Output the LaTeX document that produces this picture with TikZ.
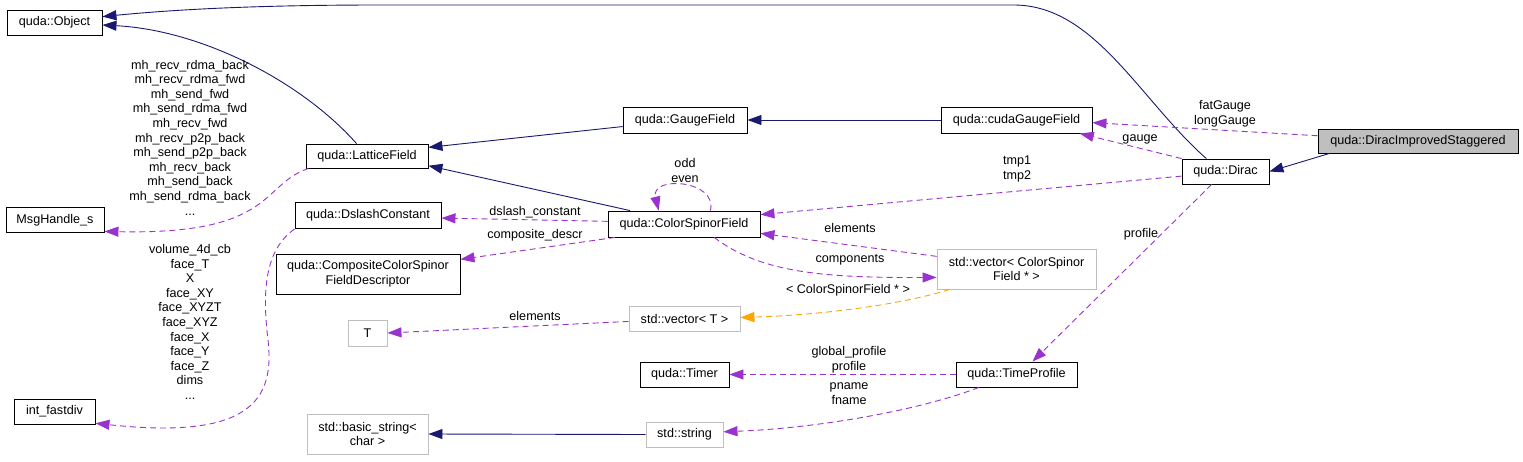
\documentclass[tikz,border=0pt]{standalone}
\usepackage{fontspec}
\setmainfont{Liberation Sans}
\usepackage{tikz}
\usetikzlibrary{arrows.meta}
\definecolor{navy}{HTML}{191970}
\definecolor{orchid}{HTML}{9A32CD}
\definecolor{amber}{HTML}{FFA500}
\definecolor{lgray}{HTML}{BFBFBF}
\begin{document}
\begin{tikzpicture}[x=1pt, y=-1pt,
  every node/.style={font=\fontsize{12.6}{14.6}\selectfont, inner sep=0pt, align=center},
  cls/.style={draw=black, fill=white, line width=0.9pt},
  undoc/.style={draw=lgray, fill=white, line width=0.9pt},
  inh/.style={draw=navy, line width=0.9pt, -{Triangle[length=14pt, width=10pt]}},
  uses/.style={draw=orchid, line width=0.9pt, dash pattern=on 6pt off 4pt, -{Triangle[length=14pt, width=10pt]}},
  tmpl/.style={uses, draw=amber}]
\useasboundingbox (0,0) rectangle (1523,461);
\node[cls, minimum width=95, minimum height=25] (obj) at (54.5,22.5) {quda::Object};
\node[cls, minimum width=122, minimum height=24] (lattice) at (367,156) {quda::LatticeField};
\node[cls, minimum width=98, minimum height=25] (msg) at (55,220) {MsgHandle\_s};
\node[cls, minimum width=146, minimum height=26] (dslash) at (368,215.5) {quda::DslashConstant};
\node[cls, minimum width=184, minimum height=40] (comp) at (368,274) {quda::CompositeColorSpinor\\FieldDescriptor};
\node[undoc, minimum width=39, minimum height=26] (T) at (367.5,333) {T};
\node[undoc, minimum width=121, minimum height=40] (bstr) at (367.5,434) {std::basic\_string<\\char >};
\node[cls, minimum width=81, minimum height=25] (fastdiv) at (54.5,411.5) {int\_fastdiv};
\node[cls, minimum width=124, minimum height=26] (gauge) at (685,120) {quda::GaugeField};
\node[cls, minimum width=152, minimum height=26] (csf) at (684,224) {quda::ColorSpinorField};
\node[undoc, minimum width=111, minimum height=25] (vecT) at (684.5,318.5) {std::vector< T >};
\node[cls, minimum width=151, minimum height=26] (cuda) at (1016.5,120) {quda::cudaGaugeField};
\node[cls, minimum width=87, minimum height=25] (dirac) at (1225.5,171.5) {quda::Dirac};
\node[cls, fill=lgray, minimum width=200, minimum height=24] (dis) at (1418,141) {quda::DiracImprovedStaggered};
\node[undoc, minimum width=159, minimum height=40] (vecC) at (1016.5,269) {std::vector< ColorSpinor\\Field * >};
\node[cls, minimum width=121, minimum height=25] (tprof) at (1016.5,374.5) {quda::TimeProfile};
\node[cls, minimum width=89, minimum height=25] (timer) at (684.5,374.5) {quda::Timer};
\node[undoc, minimum width=77, minimum height=25] (str) at (684.5,434.5) {std::string};

\draw[inh] (dirac.146) .. controls (1140,100) and (1095,6) .. (1015,5) -- (380,5) .. controls (250,5) and (170,10) .. (obj.7);
\draw[inh] (lattice.130) .. controls (300,80) and (200,30) .. (obj.-3);
\draw[inh] (gauge.186) -- (lattice.8);
\draw[inh] (csf.166) -- (lattice.-9);
\draw[inh] (cuda.west) -- (gauge.east);
\draw[inh] (dis.188.5) -- (dirac.east);
\draw[inh] (str.west) -- (bstr.east);

\draw[uses] (lattice.192) .. controls (260,185) and (275,235) .. (msg.-13);
\draw[uses] (dslash.south west) .. controls (265,250) and (262,290) .. (268,340) .. controls (275,400) and (250,440) .. (fastdiv.-16);
\draw[uses] (csf.178) -- (dslash.-2);
\draw[uses] (csf.191) -- (comp.9);
\draw[uses] (csf.27) .. controls (718,180) and (650,175) .. (csf.152);
\draw[uses] (dirac.186) -- (csf.7);
\draw[uses] (vecC.171) -- (csf.-7);
\draw[uses] (csf.-24) .. controls (760,272) and (820,278) .. (vecC.186);
\draw[uses] (vecT.183) -- (T.east);
\draw[tmpl] (vecC.197) .. controls (900,305) and (820,315) .. (vecT.1);
\draw[uses] (dis.177) -- (cuda.-2);
\draw[uses] (dirac.north west) -- (cuda.-12);
\draw[uses] (dirac.223) -- (tprof.39);
\draw[uses] (tprof.west) -- (timer.east);
\draw[uses] (tprof.199) .. controls (920,410) and (820,428) .. (str.4);

\node (lbmsg) at (190,137.5) {mh\_recv\_rdma\_back\\mh\_recv\_rdma\_fwd\\mh\_send\_fwd\\mh\_send\_rdma\_fwd\\mh\_recv\_fwd\\mh\_recv\_p2p\_back\\mh\_send\_p2p\_back\\mh\_recv\_back\\mh\_send\_back\\mh\_send\_rdma\_back\\...};
\node (lbdiv) at (190,322) {volume\_4d\_cb\\face\_T\\X\\face\_XY\\face\_XYZT\\face\_XYZ\\face\_X\\face\_Y\\face\_Z\\dims\\...};
\node (lbdsl) at (535,212) {dslash\_constant};
\node (lbcomp) at (535,235) {composite\_descr};
\node (lbself) at (685,170.5) {odd\\even};
\node (lbtmp) at (1017,169) {tmp1\\tmp2};
\node (lbel) at (850,228) {elements};
\node (lbcomps) at (850,260) {components};
\node (lbelT) at (535,316) {elements};
\node (lbtmpl) at (848,290) {< ColorSpinorField * >};
\node (lbfat) at (1225,113.5) {fatGauge\\longGauge};
\node (lbgauge) at (1140,139) {gauge};
\node (lbprof) at (1141,234) {profile};
\node (lbgprof) at (849,359.5) {global\_profile\\profile};
\node (lbname) at (849,393.5) {pname\\fname};
\end{tikzpicture}
\end{document}
